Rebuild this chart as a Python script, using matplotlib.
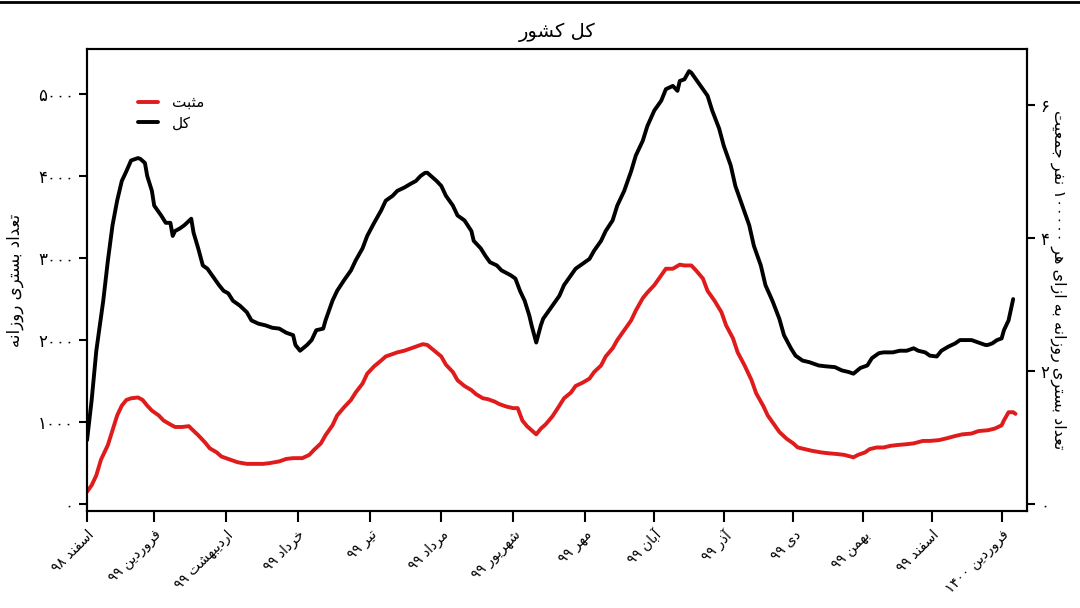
import matplotlib
matplotlib.use('Agg')
import matplotlib.pyplot as plt
from matplotlib.lines import Line2D
from matplotlib.ticker import FuncFormatter

# ---- data (day index from 1 Esfand 98) ----
total_days = [0, 2, 4, 7, 9, 11, 13, 15, 17, 19, 22, 23, 25, 26, 28, 29, 32, 34, 36, 37,
              38, 40, 42, 45, 46, 48, 50, 52, 54, 57, 59, 61, 63, 66, 69, 71, 74, 77, 80, 83,
              86, 89, 90, 92, 95, 97, 99, 102, 103, 106, 108, 111, 114, 116, 119, 121, 124, 127, 129, 132,
              134, 137, 140, 142, 144, 146, 147, 149, 151, 153, 155, 158, 160, 163, 166, 167, 170, 172, 174, 177,
              179, 183, 185, 187, 189, 191, 192, 194, 196, 197, 199, 201, 204, 206, 209, 211, 214, 217, 219, 222,
              224, 227, 229, 232, 235, 237, 240, 242, 245, 248, 250, 253, 255, 256, 258, 260, 261, 263, 265, 268,
              270, 273, 275, 278, 280, 283, 286, 288, 291, 293, 296, 299, 301, 304, 306, 309, 312, 316, 319, 323,
              326, 329, 331, 334, 337, 339, 342, 344, 348, 351, 354, 357, 359, 362, 364, 367, 369, 372, 375, 377,
              380, 382, 385, 388, 389, 391, 393, 395, 396, 398, 400]
total_vals = [780, 1270, 1870, 2480, 2970, 3400, 3700, 3940, 4060, 4190, 4220, 4210, 4160, 4000, 3820, 3640, 3520, 3430, 3430, 3270,
              3330, 3360, 3400, 3480, 3310, 3120, 2910, 2870, 2790, 2670, 2600, 2570, 2480, 2420, 2340, 2240, 2200, 2180, 2150, 2140,
              2090, 2060, 1940, 1870, 1940, 2000, 2120, 2140, 2240, 2480, 2600, 2730, 2850, 2970, 3120, 3270, 3430, 3580, 3700, 3760,
              3820, 3860, 3910, 3940, 4000, 4040, 4040, 3990, 3940, 3880, 3760, 3640, 3520, 3460, 3330, 3210, 3120, 3030, 2950, 2910,
              2850, 2790, 2750, 2600, 2480, 2300, 2180, 1970, 2180, 2260, 2340, 2420, 2540, 2670, 2790, 2870, 2930, 2990, 3090, 3210,
              3330, 3460, 3640, 3820, 4060, 4250, 4430, 4610, 4800, 4920, 5060, 5100, 5040, 5160, 5180, 5280, 5260, 5180, 5100, 4980,
              4800, 4580, 4370, 4130, 3880, 3640, 3400, 3150, 2910, 2670, 2480, 2260, 2060, 1900, 1810, 1750, 1730, 1690, 1680, 1670,
              1630, 1610, 1590, 1660, 1690, 1780, 1840, 1850, 1850, 1870, 1870, 1900, 1870, 1850, 1810, 1800, 1870, 1920, 1960, 2000,
              2000, 2000, 1970, 1940, 1940, 1960, 2000, 2020, 2120, 2240, 2500]

positive_days = [0, 2, 4, 6, 9, 11, 13, 15, 17, 19, 22, 24, 26, 28, 31, 33, 36, 38, 41, 44,
                 45, 48, 51, 53, 56, 58, 62, 65, 69, 72, 76, 79, 83, 86, 89, 93, 96, 98, 101, 103,
                 106, 108, 111, 114, 116, 119, 121, 124, 127, 129, 132, 134, 137, 140, 142, 145, 147, 150, 153, 155,
                 158, 160, 163, 166, 168, 171, 173, 176, 178, 181, 184, 186, 188, 190, 192, 194, 196, 198, 201, 204,
                 206, 209, 211, 214, 217, 219, 222, 224, 227, 229, 232, 235, 237, 240, 242, 245, 248, 250, 253, 256,
                 258, 261, 263, 266, 268, 271, 274, 276, 279, 281, 284, 287, 289, 292, 294, 297, 299, 302, 305, 307,
                 310, 313, 317, 320, 324, 327, 331, 333, 336, 338, 341, 344, 347, 350, 354, 357, 361, 364, 368, 371,
                 375, 378, 382, 385, 389, 392, 395, 396, 398, 400, 401]
positive_vals = [150, 230, 350, 540, 720, 900, 1080, 1200, 1270, 1290, 1300, 1270, 1200, 1140, 1080, 1020, 970, 940, 940, 950,
                 920, 840, 750, 680, 630, 580, 540, 510, 490, 490, 490, 500, 520, 550, 560, 560, 600, 660, 740, 840,
                 960, 1080, 1180, 1270, 1360, 1470, 1590, 1680, 1750, 1800, 1830, 1850, 1870, 1900, 1920, 1950, 1940, 1870, 1800, 1700,
                 1610, 1510, 1440, 1390, 1340, 1290, 1280, 1250, 1220, 1190, 1170, 1170, 1020, 950, 900, 850, 920, 970, 1070, 1200,
                 1290, 1360, 1440, 1480, 1530, 1610, 1690, 1800, 1900, 2000, 2120, 2240, 2360, 2510, 2580, 2670, 2790, 2870, 2870, 2920,
                 2910, 2910, 2850, 2750, 2600, 2480, 2340, 2180, 2020, 1850, 1690, 1510, 1350, 1200, 1080, 960, 880, 800, 740, 690,
                 670, 650, 630, 620, 610, 600, 570, 600, 630, 670, 690, 690, 710, 720, 730, 740, 770, 770, 780, 800,
                 830, 850, 860, 890, 900, 920, 960, 1020, 1120, 1120, 1100]

month_ticks = [0, 29, 60, 91, 122, 153, 184, 215, 245, 275, 305, 335, 365, 395]
month_labels = ['اسفند ۹۸', 'فروردین ۹۹', 'اردیبهشت ۹۹', 'خرداد ۹۹', 'تیر ۹۹', 'مرداد ۹۹',
                'شهریور ۹۹', 'مهر ۹۹', 'آبان ۹۹', 'آذر ۹۹', 'دی ۹۹', 'بهمن ۹۹', 'اسفند ۹۹',
                'فروردین ۱۴۰۰']
left_ticks = [0, 1000, 2000, 3000, 4000, 5000]
right_ticks = [0, 2, 4, 6]
population = 81.1e6

title_text = 'کل کشور'
legend_labels = ['مثبت', 'کل']
left_label = 'تعداد بستری روزانه'
right_label = 'تعداد بستری روزانه به ازای هر ۱۰۰۰۰۰ نفر جمعیت'

# ---- minimal Persian shaping (matplotlib has no bidi/shaping) ----
# isolated, final, initial, medial
FORMS = {
    'ا': ('\uFE8D', '\uFE8E', None, None),
    'آ': ('\uFE81', '\uFE82', None, None),
    'ب': ('\uFE8F', '\uFE90', '\uFE91', '\uFE92'),
    'پ': ('\uFB56', '\uFB57', '\uFB58', '\uFB59'),
    'ت': ('\uFE95', '\uFE96', '\uFE97', '\uFE98'),
    'ث': ('\uFE99', '\uFE9A', '\uFE9B', '\uFE9C'),
    'ج': ('\uFE9D', '\uFE9E', '\uFE9F', '\uFEA0'),
    'خ': ('\uFEA5', '\uFEA6', '\uFEA7', '\uFEA8'),
    'د': ('\uFEA9', '\uFEAA', None, None),
    'ذ': ('\uFEAB', '\uFEAC', None, None),
    'ر': ('\uFEAD', '\uFEAE', None, None),
    'ز': ('\uFEAF', '\uFEB0', None, None),
    'س': ('\uFEB1', '\uFEB2', '\uFEB3', '\uFEB4'),
    'ش': ('\uFEB5', '\uFEB6', '\uFEB7', '\uFEB8'),
    'ع': ('\uFEC9', '\uFECA', '\uFECB', '\uFECC'),
    'ف': ('\uFED1', '\uFED2', '\uFED3', '\uFED4'),
    'ک': ('\uFB8E', '\uFB8F', '\uFB90', '\uFB91'),
    'ل': ('\uFEDD', '\uFEDE', '\uFEDF', '\uFEE0'),
    'م': ('\uFEE1', '\uFEE2', '\uFEE3', '\uFEE4'),
    'ن': ('\uFEE5', '\uFEE6', '\uFEE7', '\uFEE8'),
    'ه': ('\uFEE9', '\uFEEA', '\uFEEB', '\uFEEC'),
    'و': ('\uFEED', '\uFEEE', None, None),
    'ی': ('\uFBFC', '\uFBFD', '\uFBFE', '\uFBFF'),
}


def shape_word(word):
    out = []
    for i, ch in enumerate(word):
        if ch not in FORMS:
            out.append(ch)
            continue
        iso, fin, ini, med = FORMS[ch]
        prev = word[i - 1] if i > 0 else ''
        nxt = word[i + 1] if i < len(word) - 1 else ''
        join_prev = prev in FORMS and FORMS[prev][2] is not None
        join_next = ini is not None and nxt in FORMS
        if join_prev and join_next:
            out.append(med)
        elif join_prev:
            out.append(fin)
        elif join_next:
            out.append(ini)
        else:
            out.append(iso)
    return ''.join(reversed(out))


def fa(text):
    words = text.split(' ')
    vis = [shape_word(w) if any(c in FORMS for c in w) else w for w in reversed(words)]
    return ' '.join(vis)


def fa_digits(v):
    return str(int(round(v))).translate(str.maketrans('0123456789', '۰۱۲۳۴۵۶۷۸۹'))


plt.rcParams['font.family'] = ['DejaVu Sans']

fig = plt.figure(figsize=(10.8, 6.08), dpi=100)
ax = fig.add_axes([0.0806, 0.1595, 0.8704, 0.7599])

ax.plot(positive_days, positive_vals, color='#e01b1b', lw=2.8, label=fa(legend_labels[0]),
        solid_joinstyle='round', solid_capstyle='round')
ax.plot(total_days, total_vals, color='black', lw=2.8, label=fa(legend_labels[1]),
        solid_joinstyle='round', solid_capstyle='round')

ax.set_xlim(0, 406)
ax.set_ylim(-85, 5550)
ax.set_xticks(month_ticks)
ax.set_xticklabels([fa(s) for s in month_labels], rotation=45, ha='right',
                   rotation_mode='anchor', fontsize=10)
ax.set_yticks(left_ticks)
ax.yaxis.set_major_formatter(FuncFormatter(lambda v, p: fa_digits(v)))
ax.tick_params(axis='x', length=8, width=1.5, pad=4)
ax.tick_params(axis='y', length=6, width=1.5, labelsize=12)
for sp in ax.spines.values():
    sp.set_linewidth(1.5)

ax2 = ax.twinx()
lo, hi = ax.get_ylim()
ax2.set_ylim(lo * 1e5 / population, hi * 1e5 / population)
ax2.set_yticks(right_ticks)
ax2.yaxis.set_major_formatter(FuncFormatter(lambda v, p: fa_digits(v)))
ax2.tick_params(axis='y', length=6, width=1.5, labelsize=12)
for sp in ax2.spines.values():
    sp.set_linewidth(1.5)

ax.set_title(fa(title_text), fontsize=14, pad=9)
ax.set_ylabel(fa(left_label), fontsize=12, labelpad=10)
ax2.set_ylabel(fa(right_label), fontsize=11.5, rotation=270, labelpad=12)

ax.legend(loc='upper left', bbox_to_anchor=(0.04, 0.93), frameon=False, fontsize=11,
          handlelength=1.3, handletextpad=0.9, labelspacing=0.35)

# thin black rule at the very top of the image
fig.add_artist(Line2D([0, 1], [0.997, 0.997], transform=fig.transFigure, color='black', lw=2))

fig.savefig('out.png', dpi=100)
